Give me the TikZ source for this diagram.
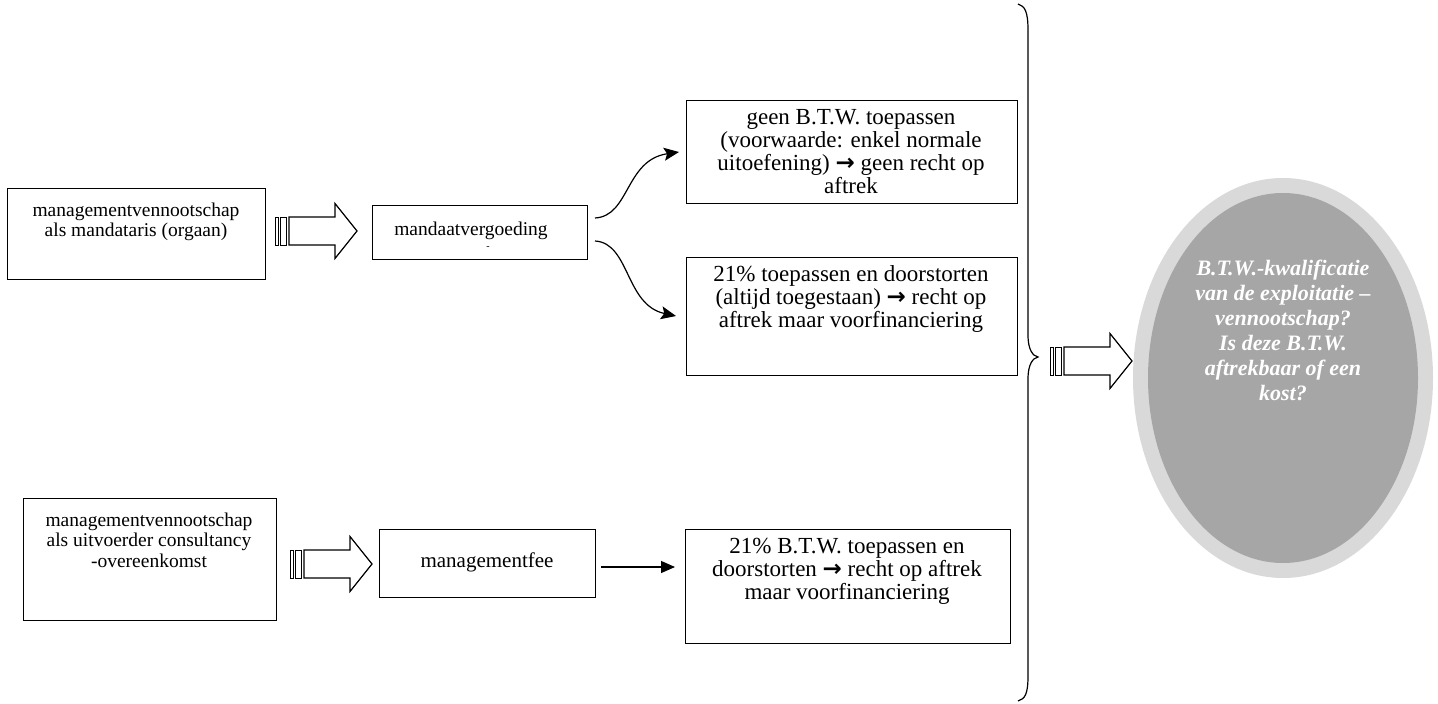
\documentclass[tikz,border=0pt]{standalone}
\usepackage{fontspec}
\setmainfont{Liberation Serif}
\newfontfamily\arrowfont{DejaVu Sans}
\newcommand{\rarr}{{\arrowfont\bfseries →}}
\usetikzlibrary{arrows.meta,shapes.geometric}
\definecolor{ringgray}{RGB}{217,217,217}
\definecolor{coregray}{RGB}{166,166,166}
\begin{document}
\begin{tikzpicture}[x=1pt,y=-1pt]
\tikzset{
 box/.style={draw, line width=1.2pt, anchor=north west, inner sep=0pt},
 txt/.style={align=center, font=\fontsize{19.5}{20.5}\selectfont, inner sep=0pt},
 bigtxt/.style={align=center, font=\fontsize{23}{23}\selectfont, inner sep=0pt},
 qtxt/.style={align=center, text=white, font=\fontsize{22}{25}\selectfont\bfseries\itshape, inner sep=0pt},
 con/.style={line width=1.2pt, -{Stealth[length=15pt,width=13pt,inset=3pt]}},
 thincon/.style={line width=1.2pt, -{Triangle[length=14pt,width=12pt]}},
 stripedarrow/.pic={
   \draw[line width=1pt, fill=white] (0,-14) rectangle (3,14) (5,-14) rectangle (11,14);
   \draw[line width=1.2pt, fill=white] (14,-14) -- (60,-14) -- (60,-27.5) -- (82,0) -- (60,27.5) -- (60,14) -- (14,14) -- cycle;
 }
}
\useasboundingbox (0,0) rectangle (1438,704);

% upper branch
\node[box, minimum width=258pt, minimum height=91pt] (a1) at (7,188) {};
\node[txt] (a1t) at (136,222) {managementvennootschap\\als mandataris (orgaan)};
\pic at (275,231) {stripedarrow};
\node[box, minimum width=215pt, minimum height=54pt] (ma) at (372,205) {};
\node[txt] (mat) at (471,231) {mandaatvergoeding};
\node[font=\fontsize{10}{10}\selectfont, inner sep=0pt] (madash) at (488,248) {-};

\node[box, minimum width=331pt, minimum height=103pt] (tr) at (686,100) {};
\node[bigtxt] (trt) at (851,152) {geen B.T.W. toepassen\\(voorwaarde: enkel normale\\uitoefening) \rarr{} geen recht op\\aftrek};
\node[box, minimum width=331pt, minimum height=118pt] (mr) at (686,257) {};
\node[bigtxt] (mrt) at (851,299) {21\% toepassen en doorstorten\\(altijd toegestaan) \rarr{} recht op\\aftrek maar voorfinanciering};

\coordinate (c1s) at (595,218);
\coordinate (c1e) at (679,152);
\coordinate (c2s) at (595,241);
\coordinate (c2e) at (676,316);
\draw[con] (c1s) .. controls (630,216) and (625,160) .. (c1e);
\draw[con] (c2s) .. controls (630,243) and (625,305) .. (c2e);

% lower branch
\node[box, minimum width=253pt, minimum height=122pt] (b1) at (23,498) {};
\node[txt] (b1t) at (149,540) {managementvennootschap\\als uitvoerder consultancy\\-overeenkomst};
\pic at (290,564) {stripedarrow};
\node[box, minimum width=216pt, minimum height=68pt] (mf) at (379,529) {};
\node[txt, font=\fontsize{21}{22}\selectfont] (mft) at (487,562) {managementfee};
\node[box, minimum width=325pt, minimum height=114pt] (br) at (685,529) {};
\node[bigtxt] (brt) at (847,571) {21\% B.T.W. toepassen en\\doorstorten \rarr{} recht op aftrek\\maar voorfinanciering};
\coordinate (fs) at (601,567);
\coordinate (fe) at (675,567);
\draw[thincon] (fs) -- (fe);

% brace
\draw[line width=1.2pt] (1018,4) .. controls (1025,6) and (1028,12) .. (1028,30)
  -- (1028,335) .. controls (1028,350) and (1033,356) .. (1038,357)
  .. controls (1033,358) and (1028,364) .. (1028,379)
  -- (1028,676) .. controls (1028,694) and (1025,699) .. (1018,701);

% ellipse
\node[ellipse, fill=ringgray, minimum width=300pt, minimum height=400pt, inner sep=0pt] (q) at (1283,378) {};
\fill[coregray] (q.center) ellipse[x radius=135, y radius=185];
\node[qtxt] (qt) at (1283,330) {B.T.W.-kwalificatie\\van de exploitatie –\\vennootschap?\\Is deze B.T.W.\\aftrekbaar of een\\kost?};
\pic at (1050,361) {stripedarrow};
\end{tikzpicture}
\end{document}
